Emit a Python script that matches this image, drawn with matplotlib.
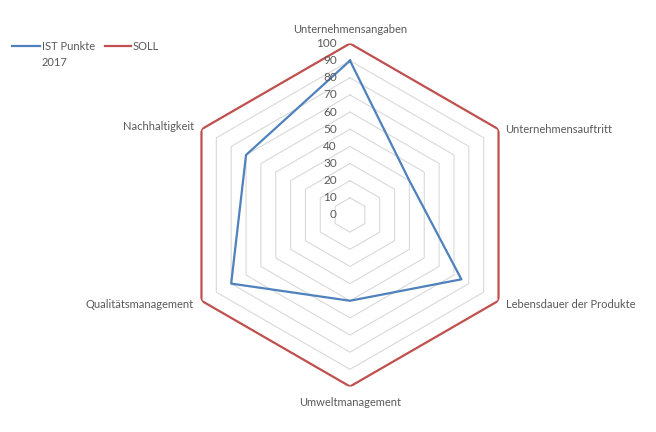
import numpy as np
import matplotlib
matplotlib.use("Agg")
import matplotlib.pyplot as plt
from matplotlib.lines import Line2D

plt.rcParams['font.family'] = ['Lato', 'DejaVu Sans']

# chart data
categories = ["Unternehmensangaben", "Unternehmensauftritt", "Lebensdauer der Produkte",
              "Umweltmanagement", "Qualitätsmanagement", "Nachhaltigkeit"]
ist_2017 = [90, 40, 75, 50, 80, 70]
soll = [100, 100, 100, 100, 100, 100]
r_ticks = [0, 10, 20, 30, 40, 50, 60, 70, 80, 90, 100]

text_col = "#595959"
grid_col = "#D9D9D9"
blue = "#4F81BD"
red = "#C0504D"

W, H = 656, 432
fig = plt.figure(figsize=(W / 100, H / 100), dpi=100)

# polar axes placed so centre is at (350, 215) px and radius 171.5 px
cx, cy, R = 350, 215, 171.5
ax = fig.add_axes([(cx - R) / W, (H - cy - R) / H, 2 * R / W, 2 * R / H], projection='polar')
ax.set_theta_zero_location('N')
ax.set_theta_direction(-1)
ax.set_ylim(0, 100)
ax.grid(False)
ax.set_xticks([])
ax.set_yticks([])
ax.spines['polar'].set_visible(False)
ax.patch.set_alpha(0)

n = len(categories)
theta = np.arange(n) * 2 * np.pi / n
theta_c = np.append(theta, theta[0])


def closed(vals):
    return np.append(vals, vals[0])


# hexagonal gridlines
for r in r_ticks[1:]:
    ax.plot(theta_c, closed([r] * n), color=grid_col, lw=0.8, zorder=1)

ax.plot(theta_c, closed(soll), color=red, lw=1.6, zorder=3)
ax.plot(theta_c, closed(ist_2017), color=blue, lw=1.6, zorder=4)

# radial tick labels (left of top axis)
for r in r_ticks:
    ax.annotate(str(r), xy=(0, r), xytext=(-13, 0), textcoords='offset pixels',
                ha='right', va='center', fontsize=8.5, color=text_col, zorder=5)

# category labels
offsets = [(0, 14, 'center', 'center'),
           (7, 0, 'left', 'center'),
           (7, -4, 'left', 'center'),
           (0, -16, 'center', 'center'),
           (-8, -4, 'right', 'center'),
           (-7, 3, 'right', 'center')]
for t, lab, (dx, dy, ha, va) in zip(theta, categories, offsets):
    ax.annotate(lab, xy=(t, 100), xytext=(dx, dy), textcoords='offset pixels',
                ha=ha, va=va, fontsize=8, color=text_col, annotation_clip=False)

# legend drawn top left
fig.add_artist(Line2D([12 / W, 40 / W], [1 - 46 / H, 1 - 46 / H], color=blue, lw=1.6))
fig.text(42 / W, 1 - 46 / H, "IST Punkte", ha='left', va='center', fontsize=8, color=text_col)
fig.text(42 / W, 1 - 62 / H, "2017", ha='left', va='center', fontsize=8, color=text_col)
fig.add_artist(Line2D([105 / W, 131 / W], [1 - 46 / H, 1 - 46 / H], color=red, lw=1.6))
fig.text(133 / W, 1 - 46 / H, "SOLL", ha='left', va='center', fontsize=8, color=text_col)

fig.savefig("out.png", dpi=100, facecolor='white')
